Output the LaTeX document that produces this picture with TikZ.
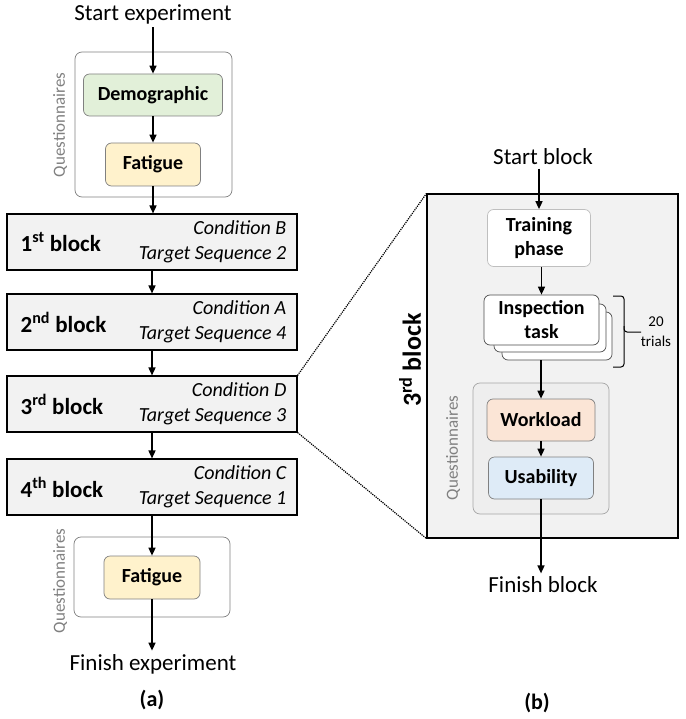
\documentclass[tikz,border=0pt]{standalone}
\usepackage{fontspec}
\setmainfont{Carlito}
\usetikzlibrary{arrows.meta,positioning}
\definecolor{demofill}{HTML}{E2F0D9}
\definecolor{fatfill}{HTML}{FFF2CC}
\definecolor{wlfill}{HTML}{FBE5D6}
\definecolor{usfill}{HTML}{DEEBF7}
\definecolor{blkfill}{HTML}{F2F2F2}
\definecolor{qfill}{HTML}{EEEEEE}
\definecolor{qgray}{HTML}{808080}
\tikzset{
	arr/.style={-{Triangle[length=8pt,width=7pt]},line width=1.5pt},
	plain/.style={font=\fontsize{23}{27}\selectfont},
	sublab/.style={font=\fontsize{22}{26}\selectfont\bfseries},
	qbox/.style={draw=qgray,rounded corners=7pt,line width=0.7pt,inner sep=0pt},
	qitem/.style={draw=qgray,rounded corners=6pt,line width=0.7pt,inner sep=0pt,
		font=\fontsize{20}{24}\selectfont\bfseries,align=center},
	qlab/.style={rotate=90,text=qgray,font=\fontsize{17}{20}\selectfont},
	blk/.style={draw=black,fill=blkfill,line width=1.1pt,inner sep=0pt,
		minimum width=290pt,minimum height=56pt},
	blklab/.style={inner sep=0pt,font=\fontsize{23}{27}\selectfont\bfseries},
	blkcond/.style={inner sep=0pt,align=right,font=\fontsize{20}{25}\selectfont\itshape},
	stackbox/.style={qitem,fill=white,draw=black!70,minimum width=115pt,minimum height=50pt}
}
\begin{document}
\begin{tikzpicture}[x=1pt,y=-1pt]
	\useasboundingbox (0,0) rectangle (685,719);
	% (a)
	\node[plain] (startexp) at (153,14) {Start experiment};
	\node[qbox,minimum width=157pt,minimum height=145pt] (qa) at (153.5,124.5) {};
	\node[qitem,fill=demofill,minimum width=139pt,minimum height=42pt] (demo) at (153,95) {Demographic};
	\node[qitem,fill=fatfill,minimum width=95pt,minimum height=43pt] (fata) at (153,164.5) {Fatigue};
	\node[qlab] (qlaba) at (60,125) {Questionnaires};
	\foreach \n/\y/\s/\c/\t in {1/242/st/B/2,2/322/nd/A/4,3/404/rd/D/3,4/487/th/C/1} {
		\node[blk] (b\n) at (152,\y) {};
		\node[blklab,anchor=west] (b\n lab) at ([xshift=14pt]b\n.west) {\n\textsuperscript{\s} block};
		\node[blkcond,anchor=east] (b\n cond) at ([xshift=-11pt]b\n.east) {Condition \c\\Target Sequence \t};
	}
	\node[qbox,minimum width=156pt,minimum height=80pt] (qb) at (152,577) {};
	\node[qitem,fill=fatfill,minimum width=96pt,minimum height=43pt] (fatb) at (152,577.5) {Fatigue};
	\node[qlab] (qlabb) at (60,581) {Questionnaires};
	\node[plain] (finexp) at (153,664) {Finish experiment};
	\node[sublab] (suba) at (152,700) {(a)};
	\draw[arr] (startexp.south) -- (startexp.south |- demo.north);
	\draw[arr] (demo) -- (fata);
	\draw[arr] (fata.south) -- (fata.south |- b1.north);
	\draw[arr] (b1) -- (b2);
	\draw[arr] (b2) -- (b3);
	\draw[arr] (b3) -- (b4);
	\draw[arr] (b4) -- (fatb);
	\draw[arr] (fatb.south) -- (fatb.south |- finexp.north);
	% (b)
	\node[plain] (startblk) at (543,157) {Start block};
	\node[blk,minimum width=251pt,minimum height=344pt] (big) at (552.5,366) {};
	\draw[densely dotted,line width=1.2pt] (b3.north east) -- (big.north west)
		(b3.south east) -- (big.south west);
	\node[blklab,rotate=90,font=\fontsize{26}{30}\selectfont\bfseries] (biglab) at (410,360) {3\textsuperscript{rd} block};
	\node[qitem,fill=white,draw=black!25,minimum width=103pt,minimum height=57pt] (train) at (539,238) {Training\\phase};
	\node[stackbox,minimum width=110pt,minimum height=48pt] (insp3) at (557,336) {};
	\node[stackbox,minimum width=112pt,minimum height=48pt] (insp2) at (550,328) {};
	\node[stackbox] (insp) at (541.5,320) {Inspection\\task};
	\draw[line width=1pt,rounded corners=3pt] (613,296) -- (624,296) -- (624,367) -- (613,367);
	\draw[line width=1pt,rounded corners=3pt] (624,326) -- (624,332) -- (641,332);
	\node[align=center,font=\fontsize{15}{20}\selectfont] (trials) at (656,332) {20\\trials};
	\node[qbox,fill=qfill,draw=black!35,minimum width=136pt,minimum height=131pt] (qc) at (541,448.5) {};
	\node[qitem,fill=wlfill,minimum width=108pt,minimum height=42pt] (wl) at (541,420) {Workload};
	\node[qitem,fill=usfill,minimum width=105pt,minimum height=42pt] (us) at (541,478) {Usability};
	\node[qlab] (qlabc) at (453,448) {Questionnaires};
	\node[plain] (finblk) at (543,585) {Finish block};
	\node[sublab] (subb) at (537,703) {(b)};
	\draw[arr] (startblk.south -| train.north) -- (train.north);
	\draw[arr] (train.south -| insp.north) -- (insp.north);
	\draw[arr] (insp3.south -| wl.north) -- (wl.north);
	\draw[arr] (wl.south) -- (wl.south |- us.north);
	\draw[arr] (us.south) -- (us.south |- finblk.north);
\end{tikzpicture}
\end{document}
